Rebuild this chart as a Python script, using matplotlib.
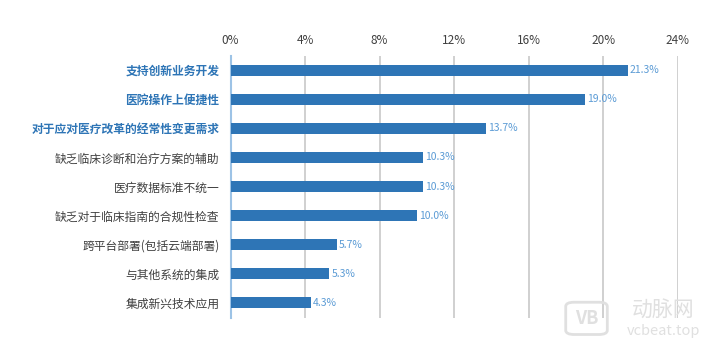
import matplotlib

matplotlib.use("Agg")
import matplotlib.pyplot as plt
from matplotlib.patches import FancyBboxPatch
from matplotlib.ticker import FuncFormatter

plt.rcParams["font.family"] = ["Noto Sans CJK SC", "DejaVu Sans"]

categories = [
    "支持创新业务开发",
    "医院操作上便捷性",
    "对于应对医疗改革的经常性变更需求",
    "缺乏临床诊断和治疗方案的辅助",
    "医疗数据标准不统一",
    "缺乏对于临床指南的合规性检查",
    "跨平台部署(包括云端部署)",
    "与其他系统的集成",
    "集成新兴技术应用",
]
values = [21.3, 19.0, 13.7, 10.3, 10.3, 10.0, 5.7, 5.3, 4.3]
highlighted = [True, True, True, False, False, False, False, False, False]
x_ticks = [0, 4, 8, 12, 16, 20, 24]

bar_color = "#2E75B6"
label_color = "#5B9BD5"
wm_color = "#E0E0E0"

fig = plt.figure(figsize=(7.17, 3.47), dpi=100)
ax = fig.add_axes([0.3215, 0.085, 0.624, 0.755])

y = list(range(len(categories)))
ax.barh(y, values, height=0.38, color=bar_color, zorder=3)
for yi, v in zip(y, values):
    ax.text(v + 0.12, yi, f"{v:.1f}%", va="center", ha="left",
            fontsize=7.5, color=label_color, zorder=4)

ax.set_ylim(len(categories) - 0.5, -0.5)
ax.set_xlim(0, 24)
ax.set_xticks(x_ticks)
ax.xaxis.set_major_formatter(FuncFormatter(lambda v, _: f"{v:.0f}%"))
ax.xaxis.tick_top()
ax.tick_params(axis="x", length=0, pad=6, labelsize=8.5, colors="#404040")
ax.grid(axis="x", color="#C8C8C8", linewidth=1.2, zorder=0)

ax.set_yticks(y)
ax.set_yticklabels(categories)
ax.tick_params(axis="y", length=0, pad=8, labelsize=8.5)
for lbl, hl in zip(ax.get_yticklabels(), highlighted):
    if hl:
        lbl.set_color(bar_color)
        lbl.set_fontweight("bold")
    else:
        lbl.set_color("#404040")

for side in ["top", "right", "bottom"]:
    ax.spines[side].set_visible(False)
ax.spines["left"].set_color("#9DC3E6")
ax.spines["left"].set_linewidth(1.5)

# watermark
logo = FancyBboxPatch((0.793, 0.04), 0.05, 0.085, boxstyle="round,pad=0.004,rounding_size=0.012",
                      transform=fig.transFigure, fill=False, edgecolor=wm_color, linewidth=2)
fig.patches.append(logo)
fig.text(0.818, 0.083, "VB", fontsize=13, fontweight="bold", color=wm_color,
         ha="center", va="center")
fig.text(0.925, 0.108, "动脉网", fontsize=15, color=wm_color, ha="center", va="center")
fig.text(0.925, 0.045, "vcbeat.top", fontsize=10.5, color=wm_color, ha="center", va="center")

fig.savefig("out.png", dpi=100)
plt.close(fig)
